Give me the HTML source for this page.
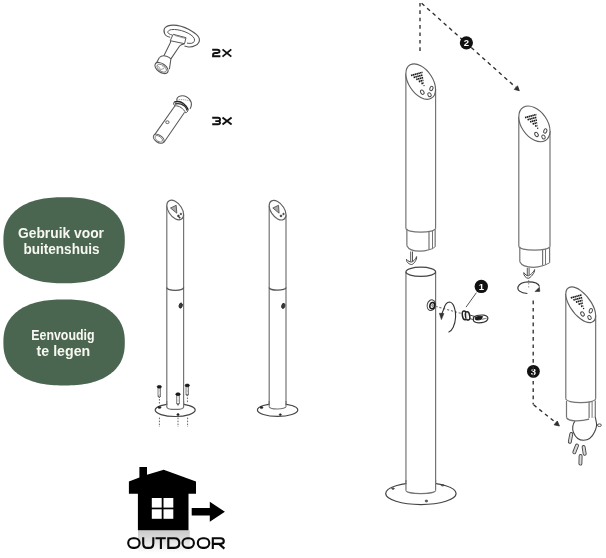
<!DOCTYPE html>
<html><head><meta charset="utf-8"><style>
html,body{margin:0;padding:0;background:#fff;}
body{width:606px;height:558px;overflow:hidden;position:relative;font-family:"Liberation Sans",sans-serif;}
svg{position:absolute;left:0;top:0;will-change:transform;}
</style></head><body>
<svg width="606" height="558" viewBox="0 0 606 558">
<line x1="166.80" y1="205.50" x2="166.80" y2="409.30" stroke="#747474" stroke-width="1.2" stroke-linecap="butt"/>
<line x1="183.60" y1="214.50" x2="183.60" y2="409.30" stroke="#747474" stroke-width="1.2" stroke-linecap="butt"/>
<ellipse cx="0" cy="0" rx="1" ry="1" transform="matrix(8.400,4.500,0,8.700,175.20,210.00)" stroke="#606060" stroke-width="1.15" fill="#fff" vector-effect="non-scaling-stroke"/>
<path d="M166.80,287.60 A8.40,2.70 0 0 0 183.60,287.60" stroke="#555" stroke-width="1.3" fill="none" />
<ellipse cx="175.20" cy="410.10" rx="20.00" ry="6.40" stroke="#444" stroke-width="1.2" fill="#fff"/>
<rect x="167.40" y="402.30" width="15.60" height="7" fill="#fff"/>
<line x1="166.80" y1="401.30" x2="166.80" y2="406.90" stroke="#747474" stroke-width="1.2" stroke-linecap="butt"/>
<line x1="183.60" y1="401.30" x2="183.60" y2="406.90" stroke="#747474" stroke-width="1.2" stroke-linecap="butt"/>
<path d="M166.80,406.90 A8.40,2.50 0 0 0 183.60,406.90" stroke="#747474" stroke-width="1.2" fill="none" />
<ellipse cx="180.70" cy="305.60" rx="1.60" ry="2.60" stroke="#222" stroke-width="0.8" fill="#3a3a3a" transform="rotate(15 180.7 305.6)"/>
<path d="M170.5,208 L176.2,205.3 L176.8,213.2 Z" stroke="#555" stroke-width="0.9" fill="#aaa" />
<ellipse cx="178.40" cy="215.90" rx="0.90" ry="1.00" stroke="#333" stroke-width="0.6" fill="#333"/>
<ellipse cx="180.90" cy="214.00" rx="0.80" ry="0.80" stroke="#333" stroke-width="0.6" fill="#333"/>
<ellipse cx="179.60" cy="217.60" rx="0.70" ry="0.70" stroke="#333" stroke-width="0.5" fill="#333"/>
<rect x="158.00" y="387.80" width="2.6" height="8.20" fill="#fff" stroke="#555" stroke-width="0.7"/>
<line x1="159.30" y1="388.80" x2="159.30" y2="395.00" stroke="#777" stroke-width="0.7" stroke-dasharray="0.7 0.6" stroke-linecap="butt"/>
<ellipse cx="159.30" cy="386.80" rx="2.20" ry="1.40" stroke="#111" stroke-width="0.6" fill="#1a1a1a"/>
<path d="M158.00,396.00 L159.30,397.80 L160.60,396.00" stroke="#333" stroke-width="0.8" fill="none" />
<rect x="176.70" y="395.20" width="2.6" height="8.30" fill="#fff" stroke="#555" stroke-width="0.7"/>
<line x1="178.00" y1="396.20" x2="178.00" y2="402.50" stroke="#777" stroke-width="0.7" stroke-dasharray="0.7 0.6" stroke-linecap="butt"/>
<ellipse cx="178.00" cy="394.20" rx="2.20" ry="1.40" stroke="#111" stroke-width="0.6" fill="#1a1a1a"/>
<path d="M176.70,403.50 L178.00,405.30 L179.30,403.50" stroke="#333" stroke-width="0.8" fill="none" />
<rect x="186.00" y="386.40" width="2.6" height="7.90" fill="#fff" stroke="#555" stroke-width="0.7"/>
<line x1="187.30" y1="387.40" x2="187.30" y2="393.30" stroke="#777" stroke-width="0.7" stroke-dasharray="0.7 0.6" stroke-linecap="butt"/>
<ellipse cx="187.30" cy="385.40" rx="2.20" ry="1.40" stroke="#111" stroke-width="0.6" fill="#1a1a1a"/>
<path d="M186.00,394.30 L187.30,396.10 L188.60,394.30" stroke="#333" stroke-width="0.8" fill="none" />
<line x1="159.40" y1="399.00" x2="159.40" y2="403.50" stroke="#666" stroke-width="1" stroke-dasharray="1.6 1.4" stroke-linecap="butt"/>
<line x1="187.40" y1="397.50" x2="187.40" y2="403.50" stroke="#666" stroke-width="1" stroke-dasharray="1.6 1.4" stroke-linecap="butt"/>
<line x1="159.40" y1="417.60" x2="159.40" y2="427.00" stroke="#666" stroke-width="1" stroke-dasharray="1.6 1.4" stroke-linecap="butt"/>
<line x1="178.00" y1="417.60" x2="178.00" y2="427.00" stroke="#666" stroke-width="1" stroke-dasharray="1.6 1.4" stroke-linecap="butt"/>
<line x1="187.60" y1="417.60" x2="187.60" y2="427.00" stroke="#666" stroke-width="1" stroke-dasharray="1.6 1.4" stroke-linecap="butt"/>
<ellipse cx="159.50" cy="407.40" rx="1.60" ry="1.00" stroke="#222" stroke-width="0.5" fill="#222"/>
<ellipse cx="178.00" cy="414.60" rx="1.20" ry="1.00" stroke="#222" stroke-width="0.5" fill="#222"/>
<line x1="269.20" y1="205.70" x2="269.20" y2="408.90" stroke="#747474" stroke-width="1.2" stroke-linecap="butt"/>
<line x1="286.00" y1="214.70" x2="286.00" y2="408.90" stroke="#747474" stroke-width="1.2" stroke-linecap="butt"/>
<ellipse cx="0" cy="0" rx="1" ry="1" transform="matrix(8.400,4.500,0,8.700,277.60,210.20)" stroke="#606060" stroke-width="1.15" fill="#fff" vector-effect="non-scaling-stroke"/>
<path d="M269.20,287.40 A8.40,2.70 0 0 0 286.00,287.40" stroke="#555" stroke-width="1.3" fill="none" />
<ellipse cx="277.60" cy="410.00" rx="20.20" ry="6.40" stroke="#444" stroke-width="1.2" fill="#fff"/>
<rect x="269.80" y="401.90" width="15.60" height="7" fill="#fff"/>
<line x1="269.20" y1="400.90" x2="269.20" y2="406.50" stroke="#747474" stroke-width="1.2" stroke-linecap="butt"/>
<line x1="286.00" y1="400.90" x2="286.00" y2="406.50" stroke="#747474" stroke-width="1.2" stroke-linecap="butt"/>
<path d="M269.20,406.50 A8.40,2.50 0 0 0 286.00,406.50" stroke="#747474" stroke-width="1.2" fill="none" />
<ellipse cx="283.30" cy="305.90" rx="1.60" ry="2.60" stroke="#222" stroke-width="0.8" fill="#3a3a3a" transform="rotate(15 283.3 305.9)"/>
<path d="M272.8,208 L278.5,205.3 L279.1,213.2 Z" stroke="#555" stroke-width="0.9" fill="#aaa" />
<ellipse cx="281.00" cy="215.90" rx="0.90" ry="1.00" stroke="#333" stroke-width="0.6" fill="#333"/>
<ellipse cx="283.50" cy="214.00" rx="0.80" ry="0.80" stroke="#333" stroke-width="0.6" fill="#333"/>
<ellipse cx="261.50" cy="407.60" rx="1.50" ry="1.00" stroke="#222" stroke-width="0.5" fill="#222"/>
<ellipse cx="280.30" cy="414.60" rx="1.10" ry="0.90" stroke="#222" stroke-width="0.5" fill="#222"/>
<line x1="405.87" y1="73.70" x2="405.87" y2="228.30" stroke="#747474" stroke-width="1.2" stroke-linecap="butt"/>
<line x1="435.57" y1="89.50" x2="435.57" y2="228.30" stroke="#747474" stroke-width="1.2" stroke-linecap="butt"/>
<ellipse cx="0" cy="0" rx="1" ry="1" transform="matrix(14.850,7.900,0,15.800,420.72,81.60)" stroke="#606060" stroke-width="1.15" fill="#fff" vector-effect="non-scaling-stroke"/>
<line x1="411.00" y1="75.50" x2="422.50" y2="72.30" stroke="#1a1a1a" stroke-width="1.7" stroke-dasharray="1.5 0.4" stroke-linecap="butt"/>
<line x1="413.60" y1="77.52" x2="422.80" y2="74.96" stroke="#1a1a1a" stroke-width="1.7" stroke-dasharray="1.5 0.4" stroke-linecap="butt"/>
<line x1="416.20" y1="79.54" x2="423.10" y2="77.62" stroke="#1a1a1a" stroke-width="1.7" stroke-dasharray="1.5 0.4" stroke-linecap="butt"/>
<line x1="418.80" y1="81.56" x2="423.40" y2="80.28" stroke="#1a1a1a" stroke-width="1.7" stroke-dasharray="1.5 0.4" stroke-linecap="butt"/>
<line x1="421.40" y1="83.58" x2="423.70" y2="82.94" stroke="#1a1a1a" stroke-width="1.7" stroke-dasharray="1.5 0.4" stroke-linecap="butt"/>
<circle cx="424.00" cy="85.60" r="0.7" fill="#222"/>
<ellipse cx="422.30" cy="92.20" rx="1.60" ry="2.30" stroke="#444" stroke-width="0.95" fill="none" transform="rotate(-30 422.3 92.2)"/>
<ellipse cx="429.50" cy="94.70" rx="1.60" ry="2.10" stroke="#444" stroke-width="0.95" fill="none" transform="rotate(-30 429.5 94.7)"/>
<ellipse cx="431.40" cy="88.50" rx="1.50" ry="2.30" stroke="#444" stroke-width="0.95" fill="none" transform="rotate(20 431.4 88.5)"/>
<path d="M405.87,228.30 A14.85,3.90 0 0 0 435.57,228.30" stroke="#747474" stroke-width="1.2" fill="none" />
<line x1="406.87" y1="228.80" x2="406.87" y2="245.70" stroke="#747474" stroke-width="1.2" stroke-linecap="butt"/>
<path d="M406.87,245.70 C408.87,250.00 414.72,251.20 419.72,251.20 C423.72,251.20 426.00,250.70 429.00,249.70" stroke="#747474" stroke-width="1.2" fill="none" />
<line x1="429.00" y1="231.90" x2="429.00" y2="249.70" stroke="#747474" stroke-width="1.2" stroke-linecap="butt"/>
<line x1="432.50" y1="230.80" x2="432.50" y2="248.70" stroke="#747474" stroke-width="1.0" stroke-linecap="butt"/>
<line x1="435.17" y1="229.30" x2="435.17" y2="246.70" stroke="#747474" stroke-width="1.2" stroke-linecap="butt"/>
<path d="M429.00,249.70 L432.50,248.70 L435.17,246.70" stroke="#747474" stroke-width="1.0" fill="none" />
<line x1="518.80" y1="116.90" x2="518.80" y2="246.30" stroke="#747474" stroke-width="1.2" stroke-linecap="butt"/>
<line x1="550.00" y1="130.90" x2="550.00" y2="246.30" stroke="#747474" stroke-width="1.2" stroke-linecap="butt"/>
<ellipse cx="0" cy="0" rx="1" ry="1" transform="matrix(15.600,7.000,0,16.400,534.40,123.90)" stroke="#606060" stroke-width="1.15" fill="#fff" vector-effect="non-scaling-stroke"/>
<line x1="525.00" y1="117.60" x2="536.40" y2="114.50" stroke="#1a1a1a" stroke-width="1.7" stroke-dasharray="1.5 0.4" stroke-linecap="butt"/>
<line x1="527.54" y1="119.74" x2="536.66" y2="117.26" stroke="#1a1a1a" stroke-width="1.7" stroke-dasharray="1.5 0.4" stroke-linecap="butt"/>
<line x1="530.08" y1="121.88" x2="536.92" y2="120.02" stroke="#1a1a1a" stroke-width="1.7" stroke-dasharray="1.5 0.4" stroke-linecap="butt"/>
<line x1="532.62" y1="124.02" x2="537.18" y2="122.78" stroke="#1a1a1a" stroke-width="1.7" stroke-dasharray="1.5 0.4" stroke-linecap="butt"/>
<line x1="535.16" y1="126.16" x2="537.44" y2="125.54" stroke="#1a1a1a" stroke-width="1.7" stroke-dasharray="1.5 0.4" stroke-linecap="butt"/>
<circle cx="537.70" cy="128.30" r="0.7" fill="#222"/>
<ellipse cx="536.50" cy="134.50" rx="1.60" ry="2.30" stroke="#444" stroke-width="0.95" fill="none" transform="rotate(-30 536.5 134.5)"/>
<ellipse cx="543.50" cy="137.00" rx="1.60" ry="2.10" stroke="#444" stroke-width="0.95" fill="none" transform="rotate(-30 543.5 137)"/>
<ellipse cx="545.30" cy="131.00" rx="1.50" ry="2.30" stroke="#444" stroke-width="0.95" fill="none" transform="rotate(20 545.3 131.0)"/>
<path d="M518.80,246.30 A15.60,3.90 0 0 0 550.00,246.30" stroke="#747474" stroke-width="1.2" fill="none" />
<line x1="519.80" y1="246.80" x2="519.80" y2="261.80" stroke="#747474" stroke-width="1.2" stroke-linecap="butt"/>
<path d="M519.80,261.80 C521.80,266.10 528.40,267.30 533.40,267.30 C537.40,267.30 539.60,266.80 542.60,265.80" stroke="#747474" stroke-width="1.2" fill="none" />
<line x1="542.60" y1="249.90" x2="542.60" y2="265.80" stroke="#747474" stroke-width="1.2" stroke-linecap="butt"/>
<line x1="545.50" y1="248.80" x2="545.50" y2="264.80" stroke="#747474" stroke-width="1.0" stroke-linecap="butt"/>
<line x1="549.60" y1="247.30" x2="549.60" y2="262.80" stroke="#747474" stroke-width="1.2" stroke-linecap="butt"/>
<path d="M542.60,265.80 L545.50,264.80 L549.60,262.80" stroke="#747474" stroke-width="1.0" fill="none" />
<line x1="405.95" y1="272.00" x2="405.95" y2="491.00" stroke="#747474" stroke-width="1.2" stroke-linecap="butt"/>
<line x1="435.60" y1="272.00" x2="435.60" y2="491.00" stroke="#747474" stroke-width="1.2" stroke-linecap="butt"/>
<ellipse cx="420.78" cy="271.80" rx="14.83" ry="4.60" stroke="#444" stroke-width="1.25" fill="#fff"/>
<ellipse cx="420.90" cy="493.50" rx="35.20" ry="11.00" stroke="#444" stroke-width="1.25" fill="#fff"/>
<rect x="406.55" y="482" width="28.450000000000035" height="9" fill="#fff"/>
<line x1="405.95" y1="480.00" x2="405.95" y2="490.50" stroke="#747474" stroke-width="1.2" stroke-linecap="butt"/>
<line x1="435.60" y1="480.00" x2="435.60" y2="490.50" stroke="#747474" stroke-width="1.2" stroke-linecap="butt"/>
<path d="M405.95,490.50 A14.83,3.20 0 0 0 435.60,490.50" stroke="#747474" stroke-width="1.2" fill="none" />
<ellipse cx="393.00" cy="488.60" rx="1.40" ry="0.80" stroke="#333" stroke-width="0.6" fill="#666"/>
<ellipse cx="442.60" cy="485.30" rx="1.40" ry="0.80" stroke="#333" stroke-width="0.6" fill="#666"/>
<ellipse cx="426.40" cy="501.00" rx="1.30" ry="1.00" stroke="#333" stroke-width="0.6" fill="#666"/>
<ellipse cx="431.30" cy="305.20" rx="4.10" ry="5.40" stroke="#444" stroke-width="1.0" fill="#fff" transform="rotate(15 431.3 305.2)"/>
<ellipse cx="432.30" cy="305.60" rx="2.40" ry="3.20" stroke="#1a1a1a" stroke-width="1.5" fill="#fff" transform="rotate(15 432.3 305.6)"/>
<ellipse cx="432.60" cy="305.40" rx="0.90" ry="1.20" stroke="#555" stroke-width="0.6" fill="#bbb"/>
<line x1="565.80" y1="294.00" x2="565.80" y2="398.80" stroke="#747474" stroke-width="1.2" stroke-linecap="butt"/>
<line x1="595.65" y1="315.60" x2="595.65" y2="398.80" stroke="#747474" stroke-width="1.2" stroke-linecap="butt"/>
<ellipse cx="0" cy="0" rx="1" ry="1" transform="matrix(14.930,10.800,0,14.200,580.72,304.80)" stroke="#606060" stroke-width="1.15" fill="#fff" vector-effect="non-scaling-stroke"/>
<line x1="570.80" y1="297.90" x2="581.90" y2="294.90" stroke="#1a1a1a" stroke-width="1.7" stroke-dasharray="1.5 0.4" stroke-linecap="butt"/>
<line x1="573.36" y1="300.02" x2="582.24" y2="297.62" stroke="#1a1a1a" stroke-width="1.7" stroke-dasharray="1.5 0.4" stroke-linecap="butt"/>
<line x1="575.92" y1="302.14" x2="582.58" y2="300.34" stroke="#1a1a1a" stroke-width="1.7" stroke-dasharray="1.5 0.4" stroke-linecap="butt"/>
<line x1="578.48" y1="304.26" x2="582.92" y2="303.06" stroke="#1a1a1a" stroke-width="1.7" stroke-dasharray="1.5 0.4" stroke-linecap="butt"/>
<line x1="581.04" y1="306.38" x2="583.26" y2="305.78" stroke="#1a1a1a" stroke-width="1.7" stroke-dasharray="1.5 0.4" stroke-linecap="butt"/>
<circle cx="583.60" cy="308.50" r="0.7" fill="#222"/>
<ellipse cx="582.50" cy="314.00" rx="1.60" ry="2.30" stroke="#444" stroke-width="0.95" fill="none" transform="rotate(-30 582.5 314)"/>
<ellipse cx="589.50" cy="317.50" rx="1.60" ry="2.10" stroke="#444" stroke-width="0.95" fill="none" transform="rotate(-30 589.5 317.5)"/>
<ellipse cx="590.80" cy="310.80" rx="1.50" ry="2.30" stroke="#444" stroke-width="0.95" fill="none" transform="rotate(20 590.8 310.8)"/>
<path d="M565.80,398.80 A14.93,4.00 0 0 0 595.65,398.80" stroke="#747474" stroke-width="1.2" fill="none" />
<line x1="566.50" y1="401.00" x2="566.50" y2="417.60" stroke="#747474" stroke-width="1.2" stroke-linecap="butt"/>
<line x1="589.10" y1="401.80" x2="589.10" y2="419.10" stroke="#747474" stroke-width="1.2" stroke-linecap="butt"/>
<line x1="592.10" y1="401.30" x2="592.10" y2="418.20" stroke="#747474" stroke-width="1.0" stroke-linecap="butt"/>
<line x1="595.30" y1="400.50" x2="595.30" y2="417.10" stroke="#747474" stroke-width="1.2" stroke-linecap="butt"/>
<path d="M589.1,419.1 L592.1,418.2 L595.3,417.1" stroke="#747474" stroke-width="1.0" fill="none" />
<path d="M575,421.1 C572.5,424 572,429 573.5,432.5 C575.5,437.5 579,440.3 583.5,440.3 C588.5,440.2 592.5,436.5 594.5,432 C596.5,428 596.8,424.5 596.4,422.6 L595.3,417.1" stroke="#444" stroke-width="1.1" fill="#fff" />
<ellipse cx="599.40" cy="425.20" rx="2.00" ry="1.30" stroke="#444" stroke-width="0.9" fill="none"/>
<path d="M566.5,417.6 Q568,420.4 575,420.8 Q583,421 589.1,419.1" stroke="#747474" stroke-width="1.2" fill="none" />
<line x1="596.60" y1="424.40" x2="597.60" y2="424.90" stroke="#444" stroke-width="0.8" stroke-linecap="butt"/>
<line x1="571.3" y1="434.0" x2="569.8" y2="441.8" stroke="#444" stroke-width="3.9000000000000004" stroke-linecap="round"/>
<line x1="571.3" y1="434.0" x2="569.8" y2="441.8" stroke="#d8d8d8" stroke-width="2.1" stroke-linecap="round"/>
<line x1="577.0" y1="445.5" x2="574.3" y2="452.3" stroke="#444" stroke-width="3.9000000000000004" stroke-linecap="round"/>
<line x1="577.0" y1="445.5" x2="574.3" y2="452.3" stroke="#d8d8d8" stroke-width="2.1" stroke-linecap="round"/>
<line x1="583.6" y1="447.0" x2="584.7" y2="453.8" stroke="#444" stroke-width="3.9000000000000004" stroke-linecap="round"/>
<line x1="583.6" y1="447.0" x2="584.7" y2="453.8" stroke="#d8d8d8" stroke-width="2.1" stroke-linecap="round"/>
<line x1="580.6" y1="456.0" x2="580.4" y2="463.6" stroke="#444" stroke-width="3.9000000000000004" stroke-linecap="round"/>
<line x1="580.6" y1="456.0" x2="580.4" y2="463.6" stroke="#d8d8d8" stroke-width="2.1" stroke-linecap="round"/>
<line x1="420.00" y1="2.90" x2="420.00" y2="51.80" stroke="#2e2e2e" stroke-width="1.35" stroke-dasharray="3.6 3.8" stroke-linecap="butt"/>
<line x1="421.60" y1="3.20" x2="515.60" y2="87.20" stroke="#2e2e2e" stroke-width="1.35" stroke-dasharray="3.8 3.6" stroke-linecap="butt"/>
<path d="M514.3,89.4 L519.3,90.7 L517.5,85.8 Z" stroke="#2e2e2e" stroke-width="0.8" fill="#2e2e2e" />
<circle cx="466.4" cy="42.8" r="6.6" fill="#111"/>
<text x="466.4" y="46.099999999999994" font-family="Liberation Sans" font-weight="bold" font-size="9.5" fill="#fff" text-anchor="middle">2</text>
<circle cx="481.3" cy="286.4" r="6.7" fill="#111"/>
<text x="481.3" y="289.7" font-family="Liberation Sans" font-weight="bold" font-size="9.5" fill="#fff" text-anchor="middle">1</text>
<circle cx="533.4" cy="371.4" r="6.4" fill="#111"/>
<text x="533.4" y="374.7" font-family="Liberation Sans" font-weight="bold" font-size="9.5" fill="#fff" text-anchor="middle">3</text>
<line x1="476.40" y1="292.70" x2="466.00" y2="307.20" stroke="#555" stroke-width="1" stroke-linecap="butt"/>
<line x1="435.50" y1="306.30" x2="463.50" y2="314.10" stroke="#777" stroke-width="1.1" stroke-dasharray="2.2 1.8" stroke-linecap="butt"/>
<path d="M443.8,309 C445,304.5 447.5,302 449.5,302 C453.5,302.2 456,310 455.6,317 C455.2,325 452,331 448.5,332.2" stroke="#333" stroke-width="1.1" fill="none" />
<path d="M443.8,309 C443,311 442,313 441.7,315" stroke="#333" stroke-width="1.1" fill="none" />
<path d="M439.4,313.3 L441.4,319.6 L443.9,313.5 Z" stroke="#333" stroke-width="0.6" fill="#333" />
<ellipse cx="464.60" cy="315.40" rx="2.20" ry="4.40" stroke="#222" stroke-width="1.5" fill="#fff" transform="rotate(-10 464.6 315.4)"/>
<ellipse cx="467.60" cy="315.90" rx="2.10" ry="4.20" stroke="#222" stroke-width="1.5" fill="#fff" transform="rotate(-10 467.6 315.9)"/>
<line x1="466.80" y1="312.60" x2="466.80" y2="319.20" stroke="#bbb" stroke-width="0.9" stroke-linecap="butt"/>
<line x1="469.80" y1="315.00" x2="475.00" y2="316.60" stroke="#444" stroke-width="1.0" stroke-linecap="butt"/>
<line x1="469.60" y1="318.60" x2="474.60" y2="319.80" stroke="#444" stroke-width="1.0" stroke-linecap="butt"/>
<path d="M473.5,317.2 C476,315.2 480,314.8 484,315.1 C487,315.6 488.6,317.3 487.6,319.4 C486.6,321.4 483,322.8 478.5,322.8 C475,322.8 472.8,321.4 473.5,319.4 Z" stroke="#333" stroke-width="1.2" fill="#fff" />
<path d="M475.2,317.6 C477.5,316.2 480.5,316 482.6,316.6 L481.2,319.2 C479,320.2 476.5,320.2 475.4,319.4 Z" stroke="#111" stroke-width="0.8" fill="#1a1a1a" />
<path d="M481.5,319.4 C483.5,318.8 485.5,318.6 486.6,318.2" stroke="#555" stroke-width="0.9" fill="none" />
<line x1="533.20" y1="300.60" x2="533.20" y2="404.50" stroke="#2e2e2e" stroke-width="1.35" stroke-dasharray="3.7 3.6" stroke-linecap="butt"/>
<line x1="533.60" y1="404.80" x2="555.50" y2="422.40" stroke="#2e2e2e" stroke-width="1.35" stroke-dasharray="3.7 3.6" stroke-linecap="butt"/>
<path d="M554.1,424.8 L559.4,426.0 L557.3,421.0 Z" stroke="#2e2e2e" stroke-width="0.8" fill="#2e2e2e" />
<line x1="528.70" y1="280.00" x2="528.70" y2="289.00" stroke="#888" stroke-width="0.9" stroke-dasharray="1.5 1.5" stroke-linecap="butt"/>
<line x1="410.70" y1="251.50" x2="410.70" y2="262.50" stroke="#444" stroke-width="0.9" stroke-linecap="butt"/>
<line x1="412.50" y1="251.50" x2="412.50" y2="262.00" stroke="#444" stroke-width="0.9" stroke-linecap="butt"/>
<path d="M406.5,259.3 C406.0,262.3 409.6,264.5 411.6,264.5 C413.6,264.5 417.1,259.6 416.6,256.6 C415.6,259.6 412.6,262.0 411.6,262.0 C410.1,262.0 408.0,261.3 406.5,259.3 Z" stroke="#444" stroke-width="1.0" fill="#fff" />
<line x1="527.30" y1="267.80" x2="527.30" y2="276.30" stroke="#444" stroke-width="0.9" stroke-linecap="butt"/>
<line x1="529.10" y1="267.80" x2="529.10" y2="275.80" stroke="#444" stroke-width="0.9" stroke-linecap="butt"/>
<path d="M523.8,272.6 C523.3,275.6 526.2,278.3 528.2,278.3 C530.2,278.3 535.1,272.6 534.6,269.6 C533.6,272.6 529.2,275.8 528.2,275.8 C526.7,275.8 525.3,274.6 523.8,272.6 Z" stroke="#444" stroke-width="1.0" fill="#fff" />
<path d="M527.4,293.5 C520,293 517,290 518,287 C519,284 523.5,282 528.7,281.9 C534,281.9 538.5,283.5 539.5,286.5" stroke="#333" stroke-width="1.1" fill="none" />
<path d="M535.0,291.6 L539.8,291.4 L539.4,287.2 Z" stroke="#333" stroke-width="0.6" fill="#333" />
<path d="M170.2,37.2 C167,36.5 165,35.5 164.6,33.5 C163.8,31.5 163.6,29.5 164.8,28 C166.5,26 169.5,25.1 173,25.1 C178,25.1 184,26.8 189,29.6 C194,32.4 198.5,35.5 199.3,38.6 C199.9,41 198.5,44.3 195.3,45.6 C193,46.8 190.5,47.2 188.5,47 C186.5,46.8 185.3,46.4 184.5,46.1" stroke="#555" stroke-width="1.1" fill="#fff" />
<path d="M172,35 C169.8,34.3 168.2,33.5 167.8,32.6 C167.6,31.2 169,30 171.5,29.6 C175,29.1 180.5,30 185,31.8 C189.5,33.6 193.2,36 194.3,38.6 C195.2,40.8 194,42.8 191.4,43.3 C189.8,43.5 188.3,43.4 187,43.1" stroke="#555" stroke-width="1.0" fill="none" />
<path d="M173.2,34.3 L186,37.7 L184.5,43.7 L170.2,40.7 Z" stroke="#555" stroke-width="1.0" fill="#fff" />
<line x1="174.50" y1="35.40" x2="185.00" y2="38.30" stroke="#888" stroke-width="0.9" stroke-linecap="butt"/>
<path d="M170.6,40.9 C170.6,42.5 170.2,43.3 169.7,44 L163.3,57" stroke="#555" stroke-width="1.05" fill="none" />
<path d="M184.5,43.7 C182,44.3 180.4,45 179.6,46 L170.9,58.9" stroke="#555" stroke-width="1.05" fill="none" />
<path d="M159.4,57.5 C161,55.8 164,55.5 166.5,56.2 C168.5,56.8 170,57.8 170.9,58.9 L169.4,69.3" stroke="#555" stroke-width="1.05" fill="#fff" />
<line x1="159.40" y1="57.50" x2="155.60" y2="64.60" stroke="#555" stroke-width="1.05" stroke-linecap="butt"/>
<ellipse cx="161.50" cy="68.00" rx="7.50" ry="4.35" stroke="#555" stroke-width="1.05" fill="#fff" transform="rotate(35.6 161.5 68.0)"/>
<ellipse cx="161.70" cy="68.20" rx="5.40" ry="3.00" stroke="#777" stroke-width="0.9" fill="#fff" transform="rotate(35.6 161.7 68.2)"/>
<path d="M158.4,66.2 L160.6,69.6 L164.2,68.4 M159.2,69.8 L160.8,70.8 M162.6,66.2 L163.8,67.4" stroke="#888" stroke-width="0.8" fill="none" />
<path d="M176.8,100.8 C176.5,98.6 178,96.5 180.5,95.9 C183.5,95.3 187.2,96.4 189.6,99.4 C191.3,101.5 191.7,104.2 191.2,106.2 C190.9,107.4 190.5,108.2 190.0,108.8" stroke="#555" stroke-width="1.05" fill="#fff" />
<path d="M177.2,100.0 C180.5,99.3 185.5,99.6 189.8,100.8" stroke="#888" stroke-width="0.8" fill="none" stroke-dasharray="1.2 0.8"/>
<path d="M174.1,102.1 C177,101 181,101.6 183.4,103.5 C185.5,105 187,107 188.2,109.8" stroke="#222" stroke-width="1.5" fill="none" />
<path d="M175.0,104.0 C178,103.2 181.5,103.8 184,105.6 C185.8,107 186.7,108.6 187.1,110.6" stroke="#333" stroke-width="1.3" fill="none" />
<path d="M174.1,102.1 C173.3,103 173.5,105 175.0,105.8 C179,105.5 183.5,108.5 185.7,112.8 C186.8,112.6 187.8,111.6 188.2,109.8" stroke="#555" stroke-width="1.0" fill="none" />
<path d="M175.0,105.8 L154.0,135.6" stroke="#555" stroke-width="1.05" fill="none" />
<path d="M184.6,112.2 L164.0,142.3" stroke="#555" stroke-width="1.05" fill="none" />
<ellipse cx="158.70" cy="138.80" rx="6.00" ry="3.60" stroke="#555" stroke-width="1.05" fill="#fff" transform="rotate(34 158.7 138.8)"/>
<ellipse cx="158.70" cy="138.80" rx="4.30" ry="2.40" stroke="#777" stroke-width="0.85" fill="#fff" transform="rotate(34 158.7 138.8)"/>
<ellipse cx="167.40" cy="122.20" rx="1.70" ry="1.40" stroke="#555" stroke-width="0.9" fill="none"/>
<path d="M212.2,49.75 H217.3 C218.8,49.75 219.55,50.4 219.55,51.35 C219.55,52.3 218.8,52.95 217.3,52.95 H215.4 C213.8,52.95 213.05,53.7 213.05,54.9 V56.25 H220.4" stroke="#111" stroke-width="1.85" fill="none" />
<path d="M222.5,49.4 L231.3,56.6 M231.3,49.4 L222.5,56.6" stroke="#111" stroke-width="1.85" fill="none" />
<path d="M212.2,117.75 H218.0 C219.4,117.75 220.05,118.5 220.05,119.4 C220.05,120.3 219.4,121.05 218.0,121.05 H215.3 M218.0,121.05 C219.4,121.05 220.05,121.8 220.05,122.75 C220.05,123.6 219.4,124.25 218.0,124.25 H212.2" stroke="#111" stroke-width="1.85" fill="none" />
<path d="M222.5,117.4 L231.6,124.6 M231.6,117.4 L222.5,124.6" stroke="#111" stroke-width="1.85" fill="none" />
<!-- house -->
<defs><linearGradient id="rg" x1="0" y1="0" x2="0" y2="1"><stop offset="0" stop-color="#cbcbcb"/><stop offset="0.3" stop-color="#d6d6d6"/><stop offset="0.65" stop-color="#ebebeb"/><stop offset="1" stop-color="#fdfdfd"/></linearGradient></defs>
<rect x="138" y="530.3" width="51.8" height="22" fill="url(#rg)"/>
<path d="M139.4,467 H147 V474.8 L163.7,469.7 L196,481.5 V493.7 H188.5 V530.3 H137.9 V493.7 H128.9 V481.5 L139.4,477.6 Z" fill="#000"/>
<rect x="151.8" y="498" width="9.9" height="9.6" fill="#fff"/>
<rect x="163.5" y="498" width="9.8" height="9.6" fill="#fff"/>
<rect x="151.8" y="509.3" width="9.9" height="9.5" fill="#fff"/>
<rect x="163.5" y="509.3" width="9.8" height="9.5" fill="#fff"/>
<path d="M191.7,508.1 H209.8 V501.8 L224.9,511.8 L209.8,521.8 V515.4 H191.7 Z" fill="#000"/>

<g stroke="#0a0a0a" stroke-width="2.1" fill="none">
<rect x="128.2" y="538.2" width="11.4" height="9.7" rx="4.8"/>
<path d="M143.2,537.2 V543.4 C143.2,546.5 144.8,547.9 147.6,547.9 H148.9 C151.7,547.9 153.3,546.5 153.3,543.4 V537.2"/>
<path d="M155.5,538.2 H165.8 M160.9,538.2 V548.9"/>
<path d="M168.3,538.2 H174.5 C177.6,538.2 179.3,540.3 179.3,543.05 C179.3,545.8 177.6,547.9 174.5,547.9 H168.3 Z"/>
<rect x="182.5" y="538.2" width="11.4" height="9.7" rx="4.8"/>
<rect x="197.8" y="538.2" width="11.5" height="9.7" rx="4.8"/>
<path d="M212.8,548.9 V538.2 H220.5 C222.8,538.2 223.8,539.5 223.8,541.1 C223.8,542.8 222.8,543.9 220.5,543.9 H212.8 M219,543.9 L224.4,548.6"/>
</g>
<path d="M124.80,240.25 L124.76,243.08 L124.64,245.32 L124.45,247.37 L124.17,249.31 L123.82,251.15 L123.39,252.93 L122.88,254.64 L122.29,256.30 L121.63,257.90 L120.89,259.46 L120.08,260.96 L119.19,262.42 L118.23,263.83 L117.19,265.20 L116.08,266.52 L114.90,267.79 L113.64,269.02 L112.32,270.20 L110.93,271.34 L109.46,272.42 L107.93,273.46 L106.33,274.45 L104.67,275.39 L102.94,276.28 L101.14,277.12 L99.28,277.90 L97.35,278.64 L95.36,279.32 L93.30,279.95 L91.18,280.53 L88.99,281.05 L86.73,281.52 L84.39,281.94 L81.98,282.30 L79.47,282.60 L76.87,282.85 L74.14,283.05 L71.25,283.19 L68.10,283.27 L64.10,283.30 L60.10,283.27 L56.95,283.19 L54.06,283.05 L51.33,282.85 L48.73,282.60 L46.22,282.30 L43.81,281.94 L41.47,281.52 L39.21,281.05 L37.02,280.53 L34.90,279.95 L32.84,279.32 L30.85,278.64 L28.92,277.90 L27.06,277.12 L25.26,276.28 L23.53,275.39 L21.87,274.45 L20.27,273.46 L18.74,272.42 L17.27,271.34 L15.88,270.20 L14.56,269.02 L13.30,267.79 L12.12,266.52 L11.01,265.20 L9.97,263.83 L9.01,262.42 L8.12,260.96 L7.31,259.46 L6.57,257.90 L5.91,256.30 L5.32,254.64 L4.81,252.93 L4.38,251.15 L4.03,249.31 L3.75,247.37 L3.56,245.32 L3.44,243.08 L3.40,240.25 L3.44,237.42 L3.56,235.18 L3.75,233.13 L4.03,231.19 L4.38,229.35 L4.81,227.57 L5.32,225.86 L5.91,224.20 L6.57,222.60 L7.31,221.04 L8.12,219.54 L9.01,218.08 L9.97,216.67 L11.01,215.30 L12.12,213.98 L13.30,212.71 L14.56,211.48 L15.88,210.30 L17.27,209.16 L18.74,208.08 L20.27,207.04 L21.87,206.05 L23.53,205.11 L25.26,204.22 L27.06,203.38 L28.92,202.60 L30.85,201.86 L32.84,201.18 L34.90,200.55 L37.02,199.97 L39.21,199.45 L41.47,198.98 L43.81,198.56 L46.22,198.20 L48.73,197.90 L51.33,197.65 L54.06,197.45 L56.95,197.31 L60.10,197.23 L64.10,197.20 L68.10,197.23 L71.25,197.31 L74.14,197.45 L76.87,197.65 L79.47,197.90 L81.98,198.20 L84.39,198.56 L86.73,198.98 L88.99,199.45 L91.18,199.97 L93.30,200.55 L95.36,201.18 L97.35,201.86 L99.28,202.60 L101.14,203.38 L102.94,204.22 L104.67,205.11 L106.33,206.05 L107.93,207.04 L109.46,208.08 L110.93,209.16 L112.32,210.30 L113.64,211.48 L114.90,212.71 L116.08,213.98 L117.19,215.30 L118.23,216.67 L119.19,218.08 L120.08,219.54 L120.89,221.04 L121.63,222.60 L122.29,224.20 L122.88,225.86 L123.39,227.57 L123.82,229.35 L124.17,231.19 L124.45,233.13 L124.64,235.18 L124.76,237.42 Z" fill="#4b6650"/>
<path d="M124.80,342.45 L124.76,345.28 L124.64,347.52 L124.45,349.56 L124.17,351.50 L123.82,353.34 L123.39,355.11 L122.88,356.82 L122.29,358.48 L121.63,360.08 L120.89,361.63 L120.08,363.14 L119.19,364.59 L118.23,366.01 L117.19,367.37 L116.08,368.69 L114.90,369.96 L113.64,371.19 L112.32,372.37 L110.93,373.50 L109.46,374.59 L107.93,375.62 L106.33,376.61 L104.67,377.55 L102.94,378.44 L101.14,379.27 L99.28,380.06 L97.35,380.79 L95.36,381.48 L93.30,382.11 L91.18,382.68 L88.99,383.21 L86.73,383.67 L84.39,384.09 L81.98,384.45 L79.47,384.75 L76.87,385.00 L74.14,385.20 L71.25,385.34 L68.10,385.42 L64.10,385.45 L60.10,385.42 L56.95,385.34 L54.06,385.20 L51.33,385.00 L48.73,384.75 L46.22,384.45 L43.81,384.09 L41.47,383.67 L39.21,383.21 L37.02,382.68 L34.90,382.11 L32.84,381.48 L30.85,380.79 L28.92,380.06 L27.06,379.27 L25.26,378.44 L23.53,377.55 L21.87,376.61 L20.27,375.62 L18.74,374.59 L17.27,373.50 L15.88,372.37 L14.56,371.19 L13.30,369.96 L12.12,368.69 L11.01,367.37 L9.97,366.01 L9.01,364.59 L8.12,363.14 L7.31,361.63 L6.57,360.08 L5.91,358.48 L5.32,356.82 L4.81,355.11 L4.38,353.34 L4.03,351.50 L3.75,349.56 L3.56,347.52 L3.44,345.28 L3.40,342.45 L3.44,339.62 L3.56,337.38 L3.75,335.34 L4.03,333.40 L4.38,331.56 L4.81,329.79 L5.32,328.08 L5.91,326.42 L6.57,324.82 L7.31,323.27 L8.12,321.76 L9.01,320.31 L9.97,318.89 L11.01,317.53 L12.12,316.21 L13.30,314.94 L14.56,313.71 L15.88,312.53 L17.27,311.40 L18.74,310.31 L20.27,309.28 L21.87,308.29 L23.53,307.35 L25.26,306.46 L27.06,305.63 L28.92,304.84 L30.85,304.11 L32.84,303.42 L34.90,302.79 L37.02,302.22 L39.21,301.69 L41.47,301.23 L43.81,300.81 L46.22,300.45 L48.73,300.15 L51.33,299.90 L54.06,299.70 L56.95,299.56 L60.10,299.48 L64.10,299.45 L68.10,299.48 L71.25,299.56 L74.14,299.70 L76.87,299.90 L79.47,300.15 L81.98,300.45 L84.39,300.81 L86.73,301.23 L88.99,301.69 L91.18,302.22 L93.30,302.79 L95.36,303.42 L97.35,304.11 L99.28,304.84 L101.14,305.63 L102.94,306.46 L104.67,307.35 L106.33,308.29 L107.93,309.28 L109.46,310.31 L110.93,311.40 L112.32,312.53 L113.64,313.71 L114.90,314.94 L116.08,316.21 L117.19,317.53 L118.23,318.89 L119.19,320.31 L120.08,321.76 L120.89,323.27 L121.63,324.82 L122.29,326.42 L122.88,328.08 L123.39,329.79 L123.82,331.56 L124.17,333.40 L124.45,335.34 L124.64,337.38 L124.76,339.62 Z" fill="#4b6650"/>
<g font-family="Liberation Sans" font-weight="bold" font-size="15.2" fill="#f8f8f2" lengthAdjust="spacingAndGlyphs">
<text x="18.0" y="237.5" textLength="86.0" lengthAdjust="spacingAndGlyphs">Gebruik voor</text>
<text x="23.4" y="253.9" textLength="76.2" lengthAdjust="spacingAndGlyphs">buitenshuis</text>
<text x="31.3" y="339.5" textLength="63.2" lengthAdjust="spacingAndGlyphs">Eenvoudig</text>
<text x="36.6" y="355.8" textLength="53.6" lengthAdjust="spacingAndGlyphs">te legen</text>
</g>
</svg>
</body></html>
